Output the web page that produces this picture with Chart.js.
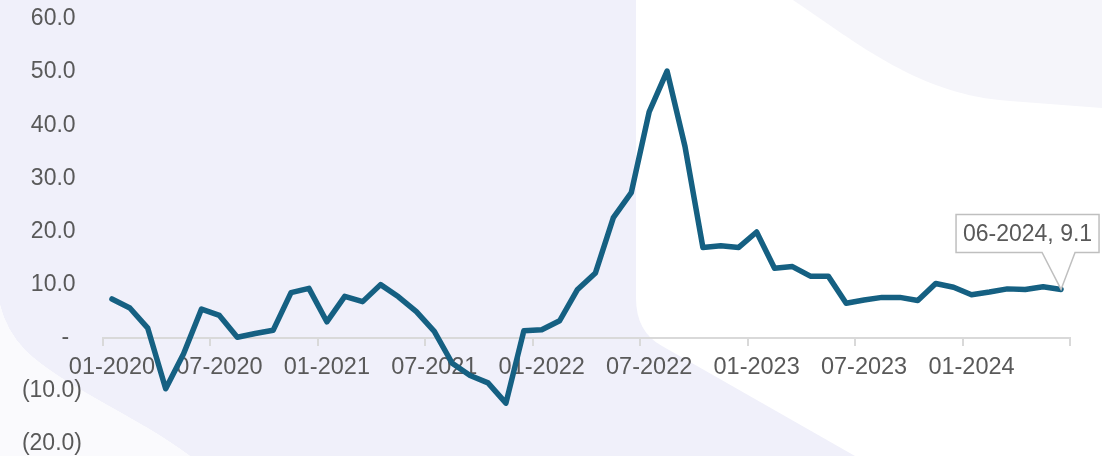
<!DOCTYPE html>
<html>
<head>
<meta charset="utf-8">
<script src="https://cdn.jsdelivr.net/npm/chart.js@4.4.1/dist/chart.umd.min.js"></script>
<style>
    html, body { margin: 0; padding: 0; background: #ffffff; }
    #wrap { width: 1102px; height: 456px; }
</style>
</head>
<body>
<div id="wrap"><canvas id="grafico"></canvas></div>
<script>
// Meses da série (mensal, 01-2020 a 06-2024)
const meses = [
    '01-2020', '02-2020', '03-2020', '04-2020', '05-2020', '06-2020',
    '07-2020', '08-2020', '09-2020', '10-2020', '11-2020', '12-2020',
    '01-2021', '02-2021', '03-2021', '04-2021', '05-2021', '06-2021',
    '07-2021', '08-2021', '09-2021', '10-2021', '11-2021', '12-2021',
    '01-2022', '02-2022', '03-2022', '04-2022', '05-2022', '06-2022',
    '07-2022', '08-2022', '09-2022', '10-2022', '11-2022', '12-2022',
    '01-2023', '02-2023', '03-2023', '04-2023', '05-2023', '06-2023',
    '07-2023', '08-2023', '09-2023', '10-2023', '11-2023', '12-2023',
    '01-2024', '02-2024', '03-2024', '04-2024', '05-2024', '06-2024'
];

// Variação (%)
const valores = [
    7.3, 5.6, 1.8, -9.6, -3.0, 5.4, 4.2, 0.1, 0.8, 1.4, 8.5, 9.3,
    3.0, 7.8, 6.8, 10.0, 7.7, 4.9, 1.2, -4.8, -7.1, -8.5, -12.3, 1.3,
    1.5, 3.2, 9.1, 12.2, 22.6, 27.3, 42.5, 50.2, 36.0, 17.0, 17.3, 17.0,
    19.9, 13.1, 13.4, 11.6, 11.6, 6.5, 7.1, 7.6, 7.6, 7.0, 10.2, 9.5,
    8.1, 8.6, 9.2, 9.1, 9.6, 9.1
];

// Eixo Y: -20 a 60, de 10 em 10
const yMin = -20;
const yMax = 60;
const yPasso = 10;
// Só mostra o rótulo do mês a cada 6 meses
const passoMeses = 6;

const cores = {
    linha: '#156082',
    texto: '#595959',
    eixo: '#d9d9d9',
    caixa: '#bfbfbf',
    lilas: '#f0f0fa',
    lilasClaro: '#f5f5fa'
};

const fonte = 'Liberation Sans, Arial, sans-serif';

// formato tipo contabilidade: negativos entre parênteses, zero como traço
function formatoY(v) {
    if (v === 0) return '-  ';
    if (v < 0) return '(' + Math.abs(v).toFixed(1) + ')';
    return v.toFixed(1) + ' ';
}

// Fundo decorativo (formas lilás)
const fundoPlugin = {
    id: 'fundo',
    beforeDraw(chart) {
        const c = chart.ctx;
        const w = chart.width, h = chart.height;
        c.save();
        c.fillStyle = '#ffffff';
        c.fillRect(0, 0, w, h);

        c.fillStyle = cores.lilas;
        c.beginPath();
        c.moveTo(0, 0);
        c.lineTo(636, 0);
        c.lineTo(636, 298);
        c.quadraticCurveTo(636, 332, 662, 346);
        c.lineTo(855, 456);
        c.lineTo(190, 456);
        c.bezierCurveTo(140, 418, 60, 385, 25, 350);
        c.quadraticCurveTo(6, 330, 0, 305);
        c.closePath();
        c.fill();

        c.fillStyle = '#fafafd';
        c.beginPath();
        c.moveTo(0, 305);
        c.quadraticCurveTo(6, 330, 25, 350);
        c.bezierCurveTo(60, 385, 140, 418, 190, 456);
        c.lineTo(0, 456);
        c.closePath();
        c.fill();

        c.fillStyle = cores.lilasClaro;
        c.beginPath();
        c.moveTo(793, 0);
        c.bezierCurveTo(860, 45, 920, 95, 1010, 101);
        c.lineTo(1102, 108);
        c.lineTo(1102, 0);
        c.closePath();
        c.fill();
        c.restore();
    }
};

// Balão com o último valor
const balaoPlugin = {
    id: 'balao',
    afterDatasetsDraw(chart) {
        const meta = chart.getDatasetMeta(0);
        const i = valores.length - 1;
        const pt = meta.data[i];
        const px = pt.x, py = pt.y;
        const c = chart.ctx;

        const esq = px - 105, dir = px + 38;
        const topo = py - 75, base = py - 37;

        c.save();
        c.beginPath();
        c.moveTo(esq, topo);
        c.lineTo(dir, topo);
        c.lineTo(dir, base);
        c.lineTo(px + 14, base);
        c.lineTo(px, py);
        c.lineTo(px - 19, base);
        c.lineTo(esq, base);
        c.closePath();
        c.fillStyle = '#ffffff';
        c.fill();
        c.strokeStyle = cores.caixa;
        c.lineWidth = 1.5;
        c.stroke();

        c.fillStyle = cores.texto;
        c.font = '23px ' + fonte;
        c.textAlign = 'center';
        c.textBaseline = 'middle';
        c.fillText(meses[i] + ', ' + valores[i].toFixed(1), (esq + dir) / 2, (topo + base) / 2 + 1);
        c.restore();
    }
};

const ctx = document.getElementById('grafico').getContext('2d');

const grafico = new Chart(ctx, {
    type: 'line',
    data: {
        labels: meses,
        datasets: [{
            label: 'Variação',
            data: valores,
            borderColor: cores.linha,
            borderWidth: 5.5,
            borderJoinStyle: 'round',
            borderCapStyle: 'round',
            pointRadius: 0,
            tension: 0,
            fill: false
        }]
    },
    options: {
        responsive: true,
        maintainAspectRatio: false,
        animation: false,
        layout: {
            padding: { top: 19, right: 32, bottom: 12, left: 0 }
        },
        plugins: {
            legend: { display: false },
            tooltip: { enabled: false },
            title: { display: false }
        },
        scales: {
            x: {
                type: 'category',
                position: { y: 0 },
                offset: true,
                // o eixo fica na linha do zero, não ocupa espaço embaixo
                afterFit: (s) => {
                    s.height = 0;
                    s.paddingLeft = 0;
                    s.paddingRight = 0;
                },
                border: {
                    display: true,
                    color: cores.eixo,
                    width: 2
                },
                grid: {
                    offset: true,
                    drawOnChartArea: false,
                    drawTicks: true,
                    tickLength: 7,
                    lineWidth: 2,
                    color: (c) => (c.index === undefined || c.index % passoMeses === 0) ? cores.eixo : 'rgba(0,0,0,0)'
                },
                ticks: {
                    autoSkip: false,
                    maxRotation: 0,
                    minRotation: 0,
                    padding: 9,
                    color: cores.texto,
                    font: { family: fonte, size: 23.5 },
                    callback: function (v, i) {
                        return i % passoMeses === 0 ? meses[i] : '';
                    }
                }
            },
            y: {
                min: yMin,
                max: yMax,
                afterFit: (s) => {
                    s.width = 103;
                    s.paddingTop = 0;
                    s.paddingBottom = 0;
                },
                border: { display: false },
                grid: { display: false, drawTicks: false },
                ticks: {
                    stepSize: yPasso,
                    padding: 21,
                    color: cores.texto,
                    font: { family: fonte, size: 23 },
                    callback: (v) => formatoY(v)
                }
            }
        }
    },
    plugins: [fundoPlugin, balaoPlugin]
});
</script>
</body>
</html>
